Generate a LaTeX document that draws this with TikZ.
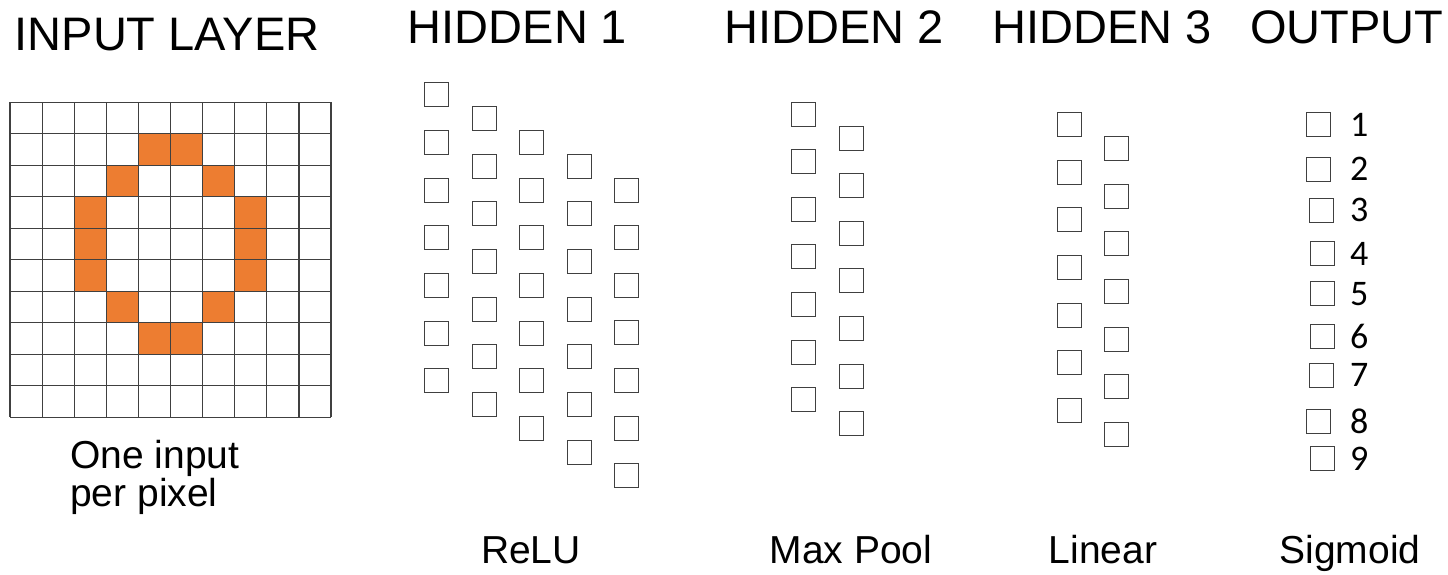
\documentclass[tikz,border=0pt]{standalone}
\usepackage{fontspec}
\setmainfont{Liberation Sans}
\newfontfamily\calfont{Carlito}
\definecolor{pixelorange}{HTML}{ED7D31}
\definecolor{gridgray}{HTML}{404040}
\begin{document}
\begin{tikzpicture}[x=1pt,y=-1pt,
  title/.style={anchor=base,inner sep=0pt,font=\fontsize{47}{56}\selectfont},
  caption/.style={anchor=base,inner sep=0pt,font=\fontsize{39}{44}\selectfont},
  unit/.style={draw=gridgray,line width=1pt,fill=white,minimum size=24pt,inner sep=0pt},
  outlabel/.style={anchor=base west,inner sep=0pt,font=\calfont\fontsize{36}{40}\selectfont},
  gridline/.style={draw=gridgray,line width=1.2pt}]
\useasboundingbox (0,0) rectangle (1448,574);

% ---- titles ----
\node[title] (tin)  at (167,50)   {INPUT LAYER};
\node[title] (th1)  at (517.5,43) {HIDDEN 1};
\node[title] (th2)  at (834,43)   {HIDDEN 2};
\node[title] (th3)  at (1102,43)  {HIDDEN 3};
\node[title] (tout) at (1347,43)  {OUTPUT};

% ---- input image: 10x10 pixel grid with the digit 0 ----
\def\gx{10}\def\gy{102.2}\def\cw{32.1}\def\ch{31.5}
\foreach \c/\r in {4/1,5/1,3/2,6/2,2/3,7/3,2/4,7/4,2/5,7/5,3/6,6/6,4/7,5/7}
  \fill[pixelorange] (\gx+\c*\cw,\gy+\r*\ch) rectangle ++(\cw,\ch);
\foreach \i in {0,...,10} {
  \draw[gridline] (\gx+\i*\cw,\gy) -- (\gx+\i*\cw,\gy+10*\ch);
  \draw[gridline] (\gx,\gy+\i*\ch) -- (\gx+10*\cw,\gy+\i*\ch);
}
% the base anchor of a two-line node sits on its last line
\node[anchor=base west,inner sep=0pt,align=left,
      font=\fontsize{39}{35}\selectfont] (cap) at (70,506) {One input\\per pixel};

% ---- hidden layer 1: five staggered columns ----
\foreach \c in {0,...,4}
  \foreach \r in {0,...,6}
    \node[unit] (h1-\c-\r) at (436.8+47.5*\c, 94.8+23.8*\c+47.65*\r) {};

% ---- hidden layer 2 ----
\foreach \c/\x/\y in {0/803.5/114,1/851.1/138}
  \foreach \r in {0,...,6}
    \node[unit] (h2-\c-\r) at (\x, \y+47.6*\r) {};

% ---- hidden layer 3 ----
\foreach \c/\x/\y in {0/1069.2/124.7,1/1116.8/148.7}
  \foreach \r in {0,...,6}
    \node[unit] (h3-\c-\r) at (\x, \y+47.6*\r) {};

% ---- output units with class labels ----
\foreach \n/\x/\y in {1/1318.7/124.5,2/1318.7/169.2,3/1321/210.3,4/1322/253.6,
                      5/1322/293.6,6/1322/336.9,7/1321/375.2,8/1318.7/421.9,9/1322/458.6}
{
  \node[unit] (o\n) at (\x,\y) {};
  \node[outlabel] (l\n) at (1350,\y+11.6) {\n};
}

% ---- activation captions ----
\node[caption] (crelu) at (531,563)  {ReLU};
\node[caption] (cmax)  at (851,563)  {Max Pool};
\node[caption] (clin)  at (1103,563) {Linear};
\node[caption] (csig)  at (1350,563) {Sigmoid};
\end{tikzpicture}
\end{document}
